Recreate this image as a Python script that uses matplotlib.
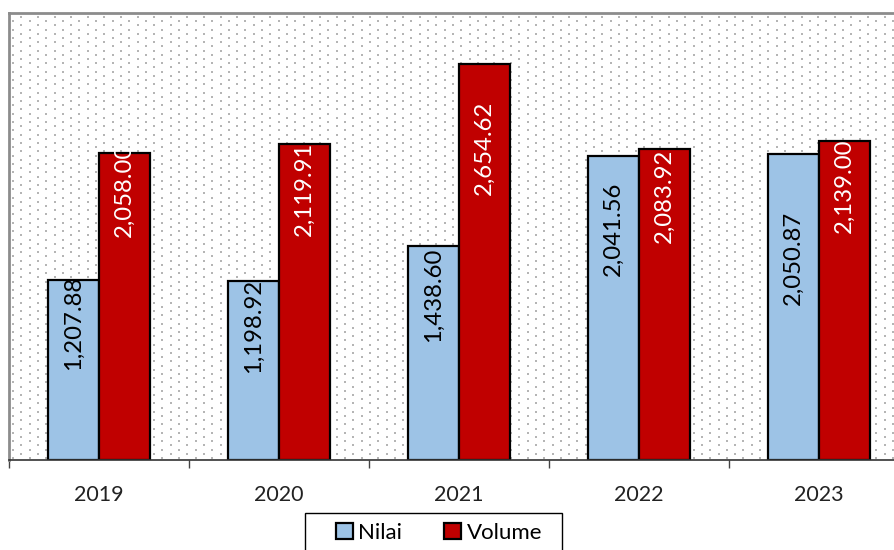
import numpy as np
import matplotlib.pyplot as plt
from matplotlib.patches import Patch, Rectangle

years = ["2019", "2020", "2021", "2022", "2023"]
nilai = [1207.88, 1198.92, 1438.60, 2041.56, 2050.87]
volume = [2058.00, 2119.91, 2654.62, 2083.92, 2139.00]

# where the labels sit inside each bar (fraction of bar height)
nilai_lbl = [0.76, 0.75, 0.77, 0.76, 0.66]
volume_lbl = [0.88, 0.86, 0.79, 0.85, 0.86]

plt.rcParams['font.family'] = ['Lato', 'DejaVu Sans']

W, H = 894, 550
fig = plt.figure(figsize=(W / 100, H / 100), dpi=100)
ax_w, ax_h = 900, 447
ax = fig.add_axes([9 / W, 90 / H, ax_w / W, ax_h / H])

# dotted plot-area fill
pts = []
for r, yy in enumerate(np.arange(2, ax_h, 4.2)):
    off = 4 if r % 2 == 0 else 12.3
    for xx in np.arange(off, ax_w, 16.6):
        pts.append((xx / ax_w, yy / ax_h))
pts = np.array(pts)
ax.scatter(pts[:, 0], pts[:, 1], s=1.3, marker='s', color='#b5b5b5',
           linewidths=0, transform=ax.transAxes, zorder=0)

x = np.arange(len(years))
w = 0.285
b1 = ax.bar(x - w / 2, nilai, w, color='#9DC3E6', edgecolor='black', linewidth=1.6, zorder=2)
b2 = ax.bar(x + w / 2, volume, w, color='#C00000', edgecolor='black', linewidth=1.6, zorder=2)

for bars, vals, fr, col in [(b1, nilai, nilai_lbl, 'black'), (b2, volume, volume_lbl, 'white')]:
    for bar, v, f in zip(bars, vals, fr):
        t = ax.text(bar.get_x() + bar.get_width() / 2, v * f, f"{v:,.2f}",
                    rotation=90, ha='center', va='center', fontsize=17.2,
                    color=col, zorder=3)
        t.set_clip_path(bar)

ax.set_xlim(-0.5, 4.5)
ax.set_ylim(0, 3000)
ax.set_yticks([])
ax.set_xticks(x)
ax.set_xticklabels(years, fontsize=15.5, color='#222222')
ax.set_xticks(np.arange(-0.5, 5, 1), minor=True)
ax.tick_params(axis='x', which='major', length=0, pad=18)
ax.tick_params(axis='x', which='minor', length=6, width=1, color='#444444')

for s in ['top', 'left', 'right']:
    ax.spines[s].set_color('#8c8c8c')
    ax.spines[s].set_linewidth(2)
ax.spines['bottom'].set_color('#333333')
ax.spines['bottom'].set_linewidth(1.2)

# legend box (runs off the bottom edge like the original)
fig.patches.append(Rectangle((305 / W, -10 / H), 257 / W, (37 + 10) / H,
                             transform=fig.transFigure, facecolor='white',
                             edgecolor='black', linewidth=1, zorder=1))
handles = [Patch(facecolor='#9DC3E6', edgecolor='black', linewidth=1.6),
           Patch(facecolor='#C00000', edgecolor='black', linewidth=1.6)]
leg = fig.legend(handles, ['Nilai', 'Volume'], loc='center',
                 bbox_to_anchor=(439 / W, 1 - 533 / H), ncol=2, fontsize=16,
                 frameon=False, handlelength=0.75, handleheight=0.75,
                 handletextpad=0.25, columnspacing=1.9, borderpad=0,
                 borderaxespad=0)

fig.savefig('out.png', dpi=100)
